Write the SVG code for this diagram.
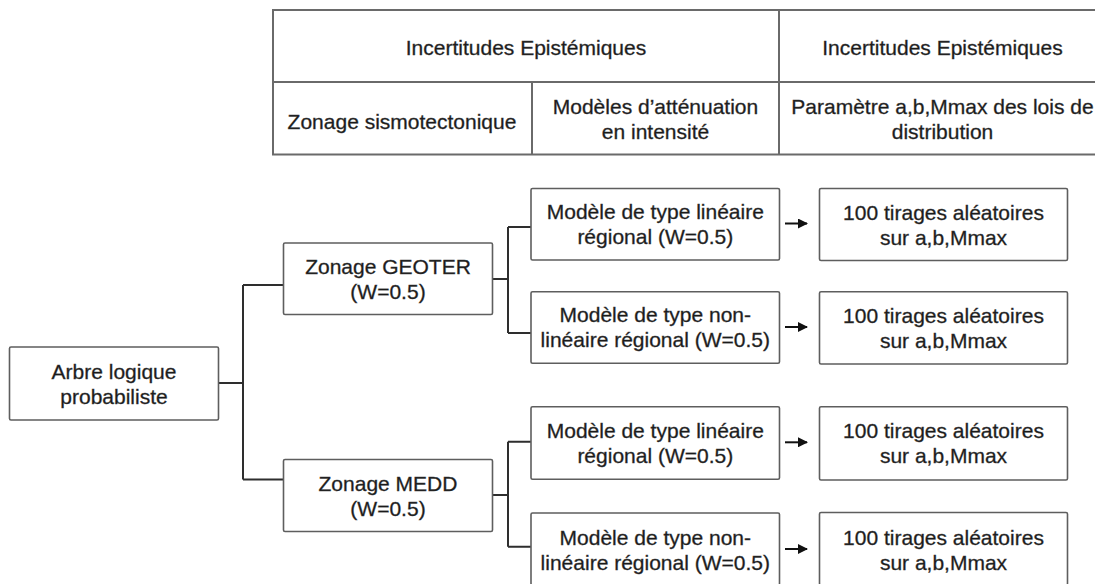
<svg xmlns="http://www.w3.org/2000/svg" width="1095" height="584" viewBox="0 0 1095 584">
<style>
text{font-family:"Liberation Sans",Arial,Helvetica,sans-serif;font-size:21px;fill:#1a1a1a;stroke:#3a3a3a;stroke-width:0.35;text-anchor:middle}
.tbl{stroke:#6a6a6a;stroke-width:2;fill:none}
.box{fill:#fff;stroke:#5e5e5e;stroke-width:1.6}
.con{stroke:#2e2e2e;stroke-width:2;fill:none}
.arr{stroke:#111;stroke-width:2;fill:none}
</style>
<defs>
<marker id="ah" viewBox="0 0 10 10" refX="9" refY="5" markerWidth="5" markerHeight="5" orient="auto" markerUnits="strokeWidth">
<path d="M0,0 L10,5 L0,10 z" fill="#111"/>
</marker>
</defs>
<rect width="1095" height="584" fill="#fff"/>

<g id="header-table">
<path class="tbl" d="M1096,10 H273 V154.5 H1096 M273,82 H1096 M532,82 V154.5 M779,10 V154.5"/>
<text x="526" y="55">Incertitudes Epistémiques</text>
<text x="942.5" y="55">Incertitudes Epistémiques</text>
<text x="402" y="128.5">Zonage sismotectonique</text>
<text x="655.5" y="113.5">Modèles d’atténuation</text>
<text x="655.5" y="138.5">en intensité</text>
<text x="942.5" y="113.5">Paramètre a,b,Mmax des lois de</text>
<text x="942.5" y="138.5">distribution</text>
</g>

<g id="connectors">
<path class="con" d="M218.5,383 H243 M243,285 V479.5 M243,285 H283.5 M243,479.5 H283.5"/>
<path class="con" d="M492.7,279 H508 M508,227 V333 M508,227 H531 M508,333 H531"/>
<path class="con" d="M492.7,495 H508 M508,441.7 V546.7 M508,441.7 H531 M508,546.7 H531"/>
<path class="arr" marker-end="url(#ah)" d="M785,223.5 H807"/>
<path class="arr" marker-end="url(#ah)" d="M785,327 H807"/>
<path class="arr" marker-end="url(#ah)" d="M785,442.3 H807"/>
<path class="arr" marker-end="url(#ah)" d="M785,549 H807"/>
</g>

<g id="arbre">
<rect class="box" x="9.5" y="347" width="209" height="73" rx="1.5"/>
<text x="114" y="378.5">Arbre logique</text>
<text x="114" y="403.5">probabiliste</text>
</g>

<g id="geoter">
<rect class="box" x="283.5" y="243" width="209" height="71.5" rx="1.5"/>
<text x="388" y="273.7">Zonage GEOTER</text>
<text x="388" y="298.7">(W=0.5)</text>
</g>

<g id="medd">
<rect class="box" x="283.5" y="459.5" width="209" height="72" rx="1.5"/>
<text x="388" y="490.5">Zonage MEDD</text>
<text x="388" y="515.5">(W=0.5)</text>
</g>

<g id="modele1">
<rect class="box" x="531" y="188.5" width="248.5" height="71.5" rx="1.5"/>
<text x="655.3" y="219">Modèle de type linéaire</text>
<text x="655.3" y="244">régional (W=0.5)</text>
</g>

<g id="modele2">
<rect class="box" x="531" y="291.7" width="248.5" height="71.6" rx="1.5"/>
<text x="655.3" y="322.3">Modèle de type non-</text>
<text x="655.3" y="347.3">linéaire régional (W=0.5)</text>
</g>

<g id="modele3">
<rect class="box" x="531" y="406.7" width="248.5" height="72.6" rx="1.5"/>
<text x="655.3" y="438">Modèle de type linéaire</text>
<text x="655.3" y="463">régional (W=0.5)</text>
</g>

<g id="modele4">
<rect class="box" x="531" y="513" width="248.5" height="72" rx="1.5"/>
<text x="655.3" y="544.5">Modèle de type non-</text>
<text x="655.3" y="569.5">linéaire régional (W=0.5)</text>
</g>

<g id="tirages1">
<rect class="box" x="819.5" y="188.5" width="248" height="72" rx="1.5"/>
<text x="943.5" y="219.5">100 tirages aléatoires</text>
<text x="943.5" y="244.5">sur a,b,Mmax</text>
</g>

<g id="tirages2">
<rect class="box" x="819.5" y="291.7" width="248" height="72.3" rx="1.5"/>
<text x="943.5" y="322.8">100 tirages aléatoires</text>
<text x="943.5" y="347.8">sur a,b,Mmax</text>
</g>

<g id="tirages3">
<rect class="box" x="819.5" y="406.7" width="248" height="73.3" rx="1.5"/>
<text x="943.5" y="438.3">100 tirages aléatoires</text>
<text x="943.5" y="463.3">sur a,b,Mmax</text>
</g>

<g id="tirages4">
<rect class="box" x="819.5" y="512.5" width="248" height="72.5" rx="1.5"/>
<text x="943.5" y="544.5">100 tirages aléatoires</text>
<text x="943.5" y="569.5">sur a,b,Mmax</text>
</g>
</svg>
